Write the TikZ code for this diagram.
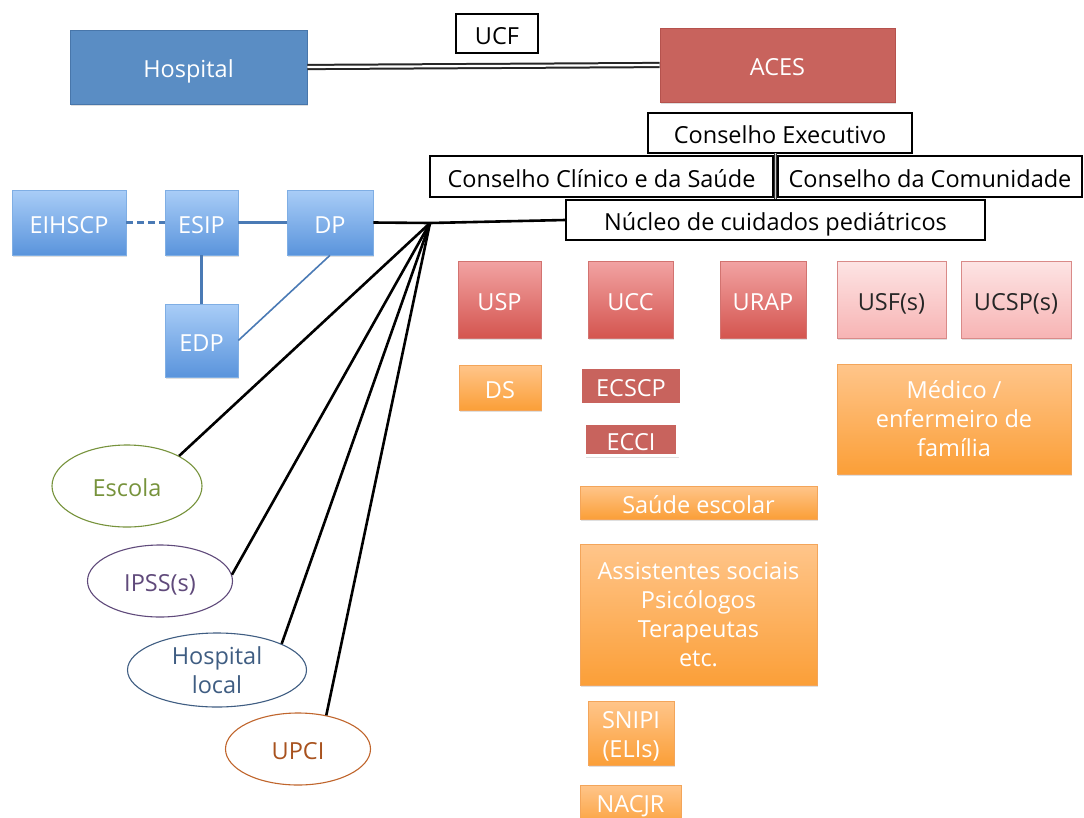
\documentclass[tikz,border=0pt]{standalone}
\usepackage{fontspec}
\setmainfont{Open Sans}
\usetikzlibrary{shadows,shapes.geometric}
\definecolor{hblue}{HTML}{5A8DC4}
\definecolor{hblueB}{HTML}{4876AA}
\definecolor{ared}{HTML}{C8635D}
\definecolor{aredB}{HTML}{B5524D}
\definecolor{bTop}{HTML}{A9CDF7}
\definecolor{bBot}{HTML}{5A94DC}
\definecolor{bBord}{HTML}{7FAEE4}
\definecolor{rTop}{HTML}{F2A3A3}
\definecolor{rBot}{HTML}{D4554F}
\definecolor{rBord}{HTML}{D27370}
\definecolor{pTop}{HTML}{FDE4E4}
\definecolor{pBot}{HTML}{F7B4B4}
\definecolor{pBord}{HTML}{D98A88}
\definecolor{oTop}{HTML}{FFC58A}
\definecolor{oBot}{HTML}{FB9F38}
\definecolor{oBord}{HTML}{F3A55A}
\definecolor{bline}{HTML}{4A7AB5}
\definecolor{cEsc}{HTML}{77933C}
\definecolor{cIps}{HTML}{604A7B}
\definecolor{cHos}{HTML}{3F5D82}
\definecolor{cUpc}{HTML}{C0652C}
\definecolor{cUpcT}{HTML}{A8521E}
\tikzset{
  every node/.style={font=\fontsize{23.5}{29}\selectfont, align=center, inner sep=0pt},
  tl/.style={text height=21pt, text depth=0pt},
  sh/.style={drop shadow={opacity=0.25, shadow xshift=1pt, shadow yshift=-2pt}},
  bigblue/.style={rectangle, fill=hblue, draw=hblueB, line width=0.8pt, text=white, sh},
  bigred/.style={rectangle, fill=ared, draw=aredB, line width=0.8pt, text=white, sh},
  wbox/.style={rectangle, draw=black, line width=1.6pt, fill=white},
  bluebox/.style={rectangle, top color=bTop, bottom color=bBot, draw=bBord, line width=0.6pt, text=white, sh},
  redbox/.style={rectangle, top color=rTop, bottom color=rBot, draw=rBord, line width=0.6pt, text=white, sh},
  pinkbox/.style={rectangle, top color=pTop, bottom color=pBot, draw=pBord, line width=0.6pt, text=black!85, sh},
  orangebox/.style={rectangle, top color=oTop, bottom color=oBot, draw=oBord, line width=0.6pt, text=white, sh},
  framedred/.style={rectangle, fill=ared, draw=white, line width=3pt, text=white, sh},
  oval/.style={ellipse, draw=#1, line width=1.1pt, fill=white, text=#1},
  blink/.style={draw=bline, line width=2.2pt},
  klink/.style={draw=black, line width=2.6pt},
}
\begin{document}
\begin{tikzpicture}[x=1pt, y=-1pt]
\clip (0,0) rectangle (1084,817);
\fill[white] (0,0) rectangle (1084,817);

% top
\node[bigblue, tl, minimum width=237pt, minimum height=74pt] (hospital) at (188.5,67) {Hospital};
\node[bigred, tl, minimum width=235pt, minimum height=74pt] (aces) at (777.5,65) {ACES};
\node[wbox, tl, minimum width=82pt, minimum height=39pt] (ucf) at (497,33.5) {UCF};
\draw[double=white, double distance=2.2pt, line width=2pt, black!85] (hospital.east) -- (aces.west);

% councils
\node[wbox, tl, minimum width=264pt, minimum height=40pt] (exec) at (780,133) {Conselho Executivo};
\node[wbox, tl, minimum width=343pt, minimum height=41pt] (clin) at (601.5,176.5) {Conselho Clínico e da Saúde};
\node[wbox, tl, minimum width=304pt, minimum height=41pt] (comu) at (930,176.5) {Conselho da Comunidade};
\coordinate (v1) at (775.5,153);
\coordinate (v2) at (775.5,200);
\draw[double=white!80!black, double distance=1.2pt, line width=1.2pt, black!80] (v1) -- (v2);
\node[wbox, tl, minimum width=419pt, minimum height=40pt] (nucleo) at (775.5,220) {Núcleo de cuidados pediátricos};

% blue cluster
\node[bluebox, tl, minimum width=114pt, minimum height=65pt] (eihscp) at (69,222.5) {EIHSCP};
\node[bluebox, tl, minimum width=73pt, minimum height=65pt] (esip) at (201.5,222.5) {ESIP};
\node[bluebox, tl, minimum width=86pt, minimum height=65pt] (dp) at (330,222.5) {DP};
\node[bluebox, tl, minimum width=73pt, minimum height=73pt] (edp) at (201.5,340.5) {EDP};
\draw[blink, dash pattern=on 7pt off 4pt] (eihscp.east) -- (esip.west);
\draw[blink] (esip.east) -- (dp.west);
\draw[blink] (esip.south) -- (edp.north);
\draw[blink, line width=1.6pt] (dp.south) -- (edp.east);

% hub
\coordinate (hub) at (430,223);
\draw[klink] (dp.east) -- (hub) -- (nucleo.west);

% ellipses
\node[oval=cEsc, tl, minimum width=150pt, minimum height=82pt] (escola) at (127,486) {Escola};
\node[oval=cIps, tl, minimum width=145pt, minimum height=72pt] (ipss) at (160,581) {IPSS(s)};
\node[oval=cHos, minimum width=179pt, minimum height=74pt] (hosploc) at (217,670) {Hospital\\local};
\node[oval=cUpc, tl, text=cUpcT, minimum width=145pt, minimum height=72pt] (upci) at (298,749) {UPCI};
\draw[klink] (hub) -- (escola.30);
\draw[klink] (hub) -- (ipss.5);
\draw[klink] (hub) -- (hosploc.22);
\draw[klink] (hub) -- (upci.50);

% units
\node[redbox, tl, minimum width=83pt, minimum height=77pt] (usp) at (499.5,299.5) {USP};
\node[redbox, tl, minimum width=85pt, minimum height=77pt] (ucc) at (630.5,299.5) {UCC};
\node[redbox, tl, minimum width=86pt, minimum height=77pt] (urap) at (763,299.5) {URAP};
\node[pinkbox, tl, minimum width=109pt, minimum height=77pt] (usf) at (891.5,299.5) {USF(s)};
\node[pinkbox, tl, minimum width=110pt, minimum height=77pt] (ucsp) at (1016,299.5) {UCSP(s)};

\node[orangebox, tl, minimum width=82pt, minimum height=45pt] (ds) at (500,387.5) {DS};
\node[framedred, tl, minimum width=101pt, minimum height=37pt] (ecscp) at (631,385.5) {ECSCP};
\node[framedred, tl, minimum width=93pt, minimum height=32pt] (ecci) at (631,439.5) {ECCI};
\node[orangebox, minimum width=234pt, minimum height=110pt] (medico) at (954,419) {Médico /\\enfermeiro de\\família};
\node[orangebox, tl, minimum width=237pt, minimum height=33pt] (saude) at (698.5,502.5) {Saúde escolar};
\node[orangebox, minimum width=237pt, minimum height=141pt] (assist) at (698.5,614.5) {Assistentes sociais\\Psicólogos\\Terapeutas\\etc.};
\node[orangebox, minimum width=86pt, minimum height=64pt,
      label={[text=white, align=center, yshift=-3pt]center:SNIPI\\(ELIs)}] (snipi) at (631,733) {};
\node[orangebox, minimum width=101pt, minimum height=44pt] (nacjr) at (630.5,807) {};
\node[text=white, tl] (nacjrt) at (630.5,802) {NACJR};
\end{tikzpicture}
\end{document}
